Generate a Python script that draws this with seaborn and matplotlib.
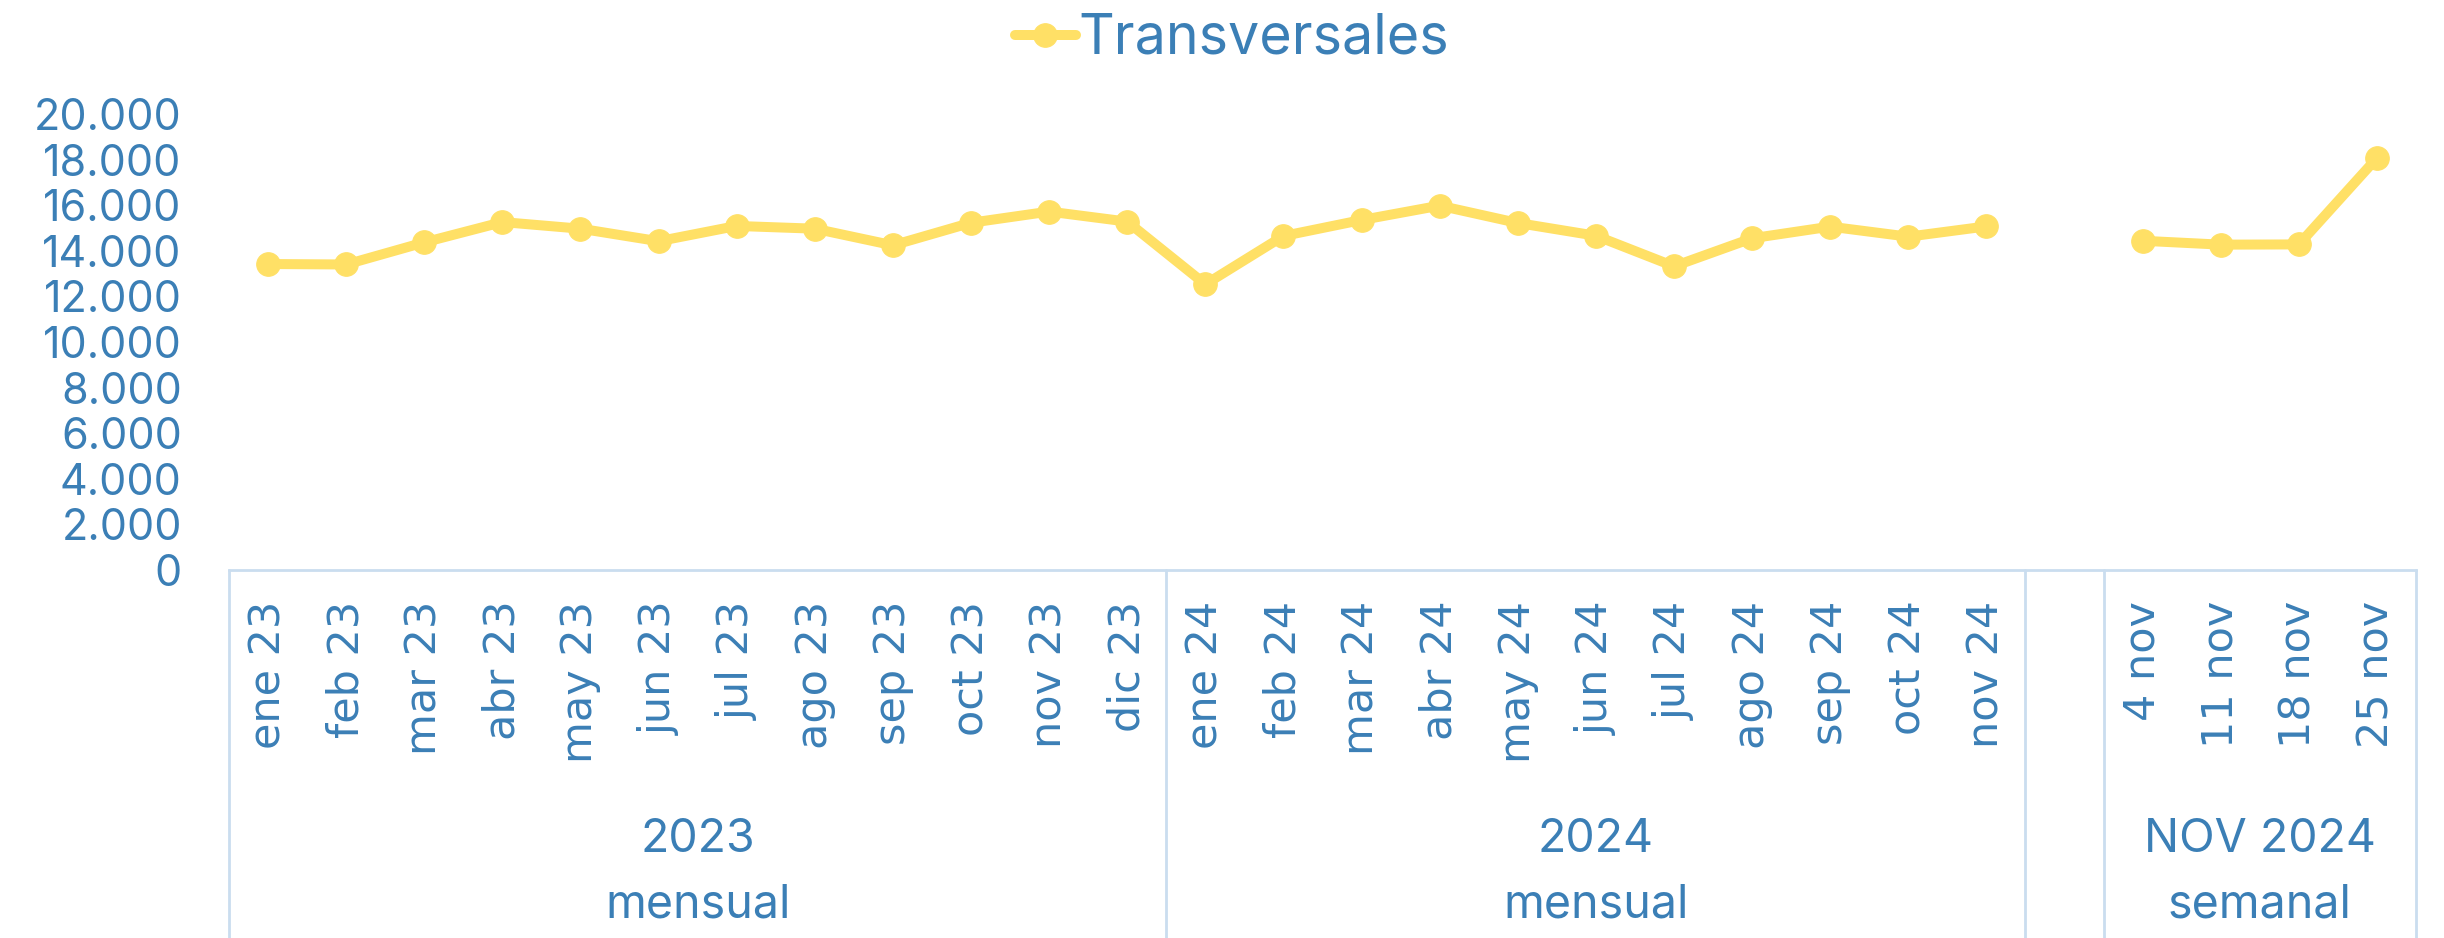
import numpy as np
import pandas as pd
import matplotlib
matplotlib.use('Agg')
import matplotlib.pyplot as plt
import matplotlib.transforms as mtransforms
from matplotlib.lines import Line2D
from matplotlib.ticker import FuncFormatter
import seaborn as sns

# categorias del eje x (mensual 2023, mensual 2024, hueco, semanal nov 2024)
categorias = ['ene 23', 'feb 23', 'mar 23', 'abr 23', 'may 23', 'jun 23',
              'jul 23', 'ago 23', 'sep 23', 'oct 23', 'nov 23', 'dic 23',
              'ene 24', 'feb 24', 'mar 24', 'abr 24', 'may 24', 'jun 24',
              'jul 24', 'ago 24', 'sep 24', 'oct 24', 'nov 24',
              '',
              '4 nov', '11 nov', '18 nov', '25 nov']

transversales = [13420, 13400, 14370, 15260, 14970, 14420,
                 15090, 14970, 14240, 15230, 15720, 15280,
                 12530, 14650, 15350, 15980, 15220, 14660,
                 13320, 14550, 15060, 14620, 15070,
                 np.nan,
                 14440, 14270, 14280, 18070]

# tramos de linea (el hueco corta la serie)
tramo = [1] * 23 + [0] + [2] * 4

grupo_anio = ['2023', '2024', '', 'NOV 2024']
grupo_tipo = ['mensual', 'mensual', '', 'semanal']
grupo_n = [12, 11, 1, 4]

amarillo = '#FFE066'
azul = '#3B7FB6'
gris_azul = '#CADDEF'

sns.set_style('white')
plt.rcParams['font.family'] = ['Inter', 'DejaVu Sans']

fig = plt.figure(figsize=(24.44, 9.38), dpi=100)
ax = fig.add_axes([229 / 2444, 1 - 570 / 938, (2416 - 229) / 2444, (570 - 114) / 938])

df = pd.DataFrame({'pos': np.arange(len(categorias)), 'valor': transversales, 'tramo': tramo})
df = df.dropna()

for i, t in enumerate([1, 2]):
    sub = df[df['tramo'] == t]
    sns.lineplot(data=sub, x='pos', y='valor', ax=ax, color=amarillo, lw=7.2,
                 marker='o', markersize=17, markeredgecolor=amarillo,
                 label='Transversales' if i == 0 else None, legend=False)

ax.set_xlim(-0.5, len(categorias) - 0.5)
ax.set_ylim(0, 20000)
ax.set_yticks(np.arange(0, 20001, 2000))
ax.yaxis.set_major_formatter(FuncFormatter(lambda v, p: f'{int(v):,}'.replace(',', '.')))
ax.set_xticks(np.arange(len(categorias)))
ax.set_xticklabels(categorias, rotation=90, family='DejaVu Sans', fontsize=31, color=azul)
ax.tick_params(axis='x', length=0, pad=22)
ax.tick_params(axis='y', length=0, pad=34, labelsize=31, labelcolor=azul)
ax.set_xlabel('')
ax.set_ylabel('')
ax.grid(False)

for s in ['top', 'right', 'left']:
    ax.spines[s].set_visible(False)
ax.spines['bottom'].set_color(gris_azul)
ax.spines['bottom'].set_linewidth(2)

# separadores de grupos y etiquetas de grupo
trans = mtransforms.blended_transform_factory(ax.transData, fig.transFigure)
y_eje = 1 - 570 / 938
bordes = np.concatenate([[0], np.cumsum(grupo_n)]) - 0.5
for b in bordes:
    fig.add_artist(Line2D([b, b], [y_eje, 0], transform=trans, color=gris_azul, lw=2))

for k in range(len(grupo_n)):
    centro = (bordes[k] + bordes[k + 1]) / 2
    if grupo_anio[k]:
        ax.text(centro, 1 - 840 / 938, grupo_anio[k], transform=trans, ha='center',
                va='center', fontsize=33.5, color=azul)
        ax.text(centro, 1 - 905 / 938, grupo_tipo[k], transform=trans, ha='center',
                va='center', fontsize=33.5, color=azul)

handles, labels = ax.get_legend_handles_labels()
leg = fig.legend(handles[:1], labels[:1], loc='center', bbox_to_anchor=(0.504, 1 - 39 / 938),
                 frameon=False, fontsize=40, handlelength=1.1, handletextpad=0.05)
for txt in leg.get_texts():
    txt.set_color(azul)

fig.savefig('out.png', dpi=100)
